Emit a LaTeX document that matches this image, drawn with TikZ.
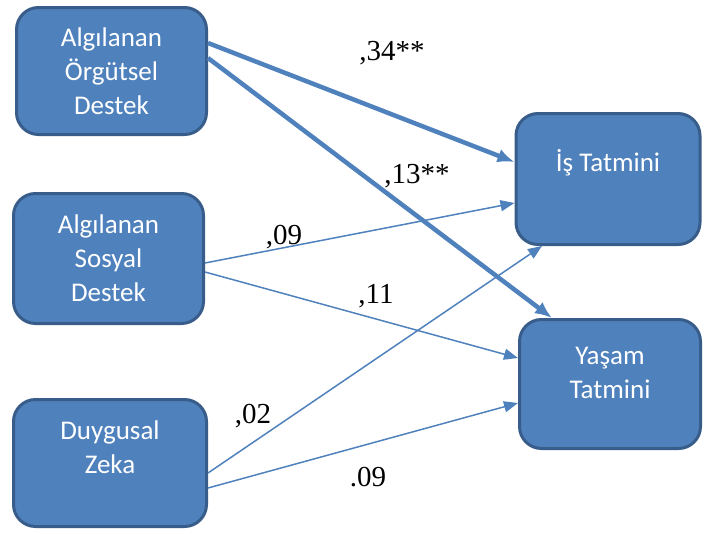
\documentclass[tikz,border=0pt]{standalone}
\usepackage{fontspec}
\setmainfont{Liberation Serif}
\newfontfamily\boxfont{Carlito}
\usetikzlibrary{arrows.meta, calc}
\definecolor{boxblue}{RGB}{79,129,189}
\definecolor{boxline}{RGB}{56,93,138}
\tikzset{factor/.style={draw=boxline,line width=3pt,fill=boxblue,rounded corners=22pt,
    text=white,align=center,inner sep=2pt,
    font=\boxfont\fontsize{27}{34}\selectfont},
    strong edge/.style={draw=boxblue,line width=4.5pt,-{Latex[length=17pt,width=14pt]}},
    weak edge/.style={draw=boxblue,line width=1.5pt,-{Triangle[length=14pt,width=11pt]}},
    weight/.style={font=\fontsize{29}{32}\selectfont}}

\begin{document}
\begin{tikzpicture}[x=1pt,y=-1pt]
  \useasboundingbox (0,0) rectangle (704,533);

  % predictors on the left
  \node[factor,minimum width=190pt,minimum height=127pt] (aod) at (111.5,71) {Algılanan\\Örgütsel\\Destek};
  \node[factor,minimum width=190pt,minimum height=130pt] (asd) at (108.5,258.5) {Algılanan\\Sosyal\\Destek};
  \node[factor,minimum width=193pt,minimum height=127pt] (dz) at (110,463) {Duygusal\\Zeka\\[-12pt]\strut};

  % outcomes on the right
  \node[factor,minimum width=184pt,minimum height=131pt] (is) at (608,179) {İş Tatmini\\[-8pt]\strut};
  \node[factor,minimum width=181pt,minimum height=129pt] (ys) at (610,384) {Yaşam\\Tatmini\\[-22pt]\strut};

  % paths
  \path[strong edge] ([yshift=28pt]aod.east) -- ([yshift=17pt]is.west);
  \path[strong edge] ([yshift=13pt]aod.east) -- ([xshift=-58pt]ys.north);
  \path[weak edge] ([yshift=-4.5pt]asd.east) -- ([yshift=-24pt]is.west);
  \path[weak edge] ([yshift=-13.5pt]asd.east) -- ([yshift=26pt]ys.west);
  \path[weak edge] ([yshift=-10pt]dz.east) -- ([xshift=-66pt]is.south);
  \path[weak edge] ([yshift=-25pt]dz.east) -- ([yshift=-19pt]ys.west);

  % coefficients
  \node[weight] (w1) at (392,53) {,34**};
  \node[weight] (w2) at (417,176) {,13**};
  \node[weight] (w3) at (284,237) {,09};
  \node[weight] (w4) at (376,296) {,11};
  \node[weight] (w5) at (253,416) {,02};
  \node[weight] (w6) at (368,477) {.09};

\end{tikzpicture}
\end{document}
